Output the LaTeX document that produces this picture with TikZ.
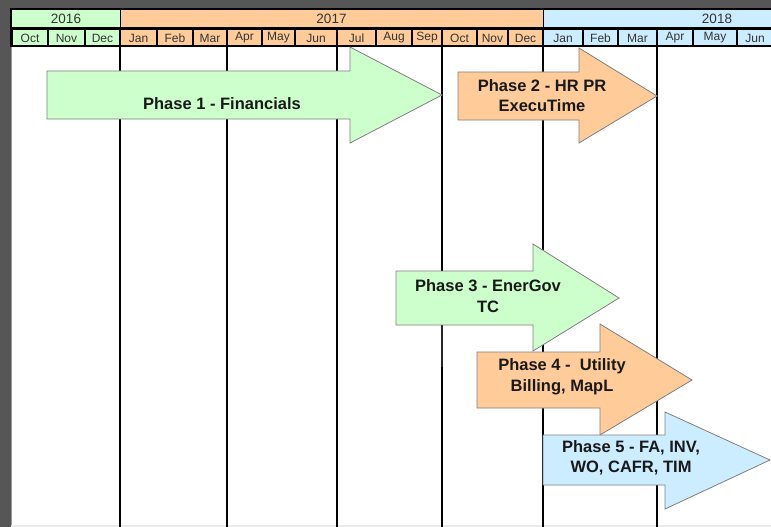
\documentclass[tikz,border=0pt]{standalone}
\usepackage{fontspec}
\setmainfont{Liberation Sans}
\definecolor{cgreen}{HTML}{CCFFCC}
\definecolor{corange}{HTML}{FFCC99}
\definecolor{cblue}{HTML}{CCECFF}
\definecolor{cbg}{HTML}{565656}
\definecolor{ctxt}{HTML}{333333}
\tikzset{
  yeartxt/.style={font=\fontsize{13.5}{14}\selectfont, text=ctxt, inner sep=0pt},
  monthtxt/.style={font=\fontsize{12}{13}\selectfont, text=ctxt, inner sep=0pt},
  gridline/.style={line width=2.8pt, black},
  phase/.style={draw=black!50, line width=0.8pt},
  phasetxt/.style={font=\bfseries\fontsize{16.5}{20.5}\selectfont, text=black!90, align=center, inner sep=0pt}
}
\begin{document}
\begin{tikzpicture}[x=1pt,y=-1pt]
\useasboundingbox (0,0) rectangle (771,527);
% background
\fill[cbg] (0,0) rectangle (771,527);
% body
\fill[white] (11,47) rectangle (771,525);
\fill[black!8] (11,525) rectangle (771,527);
\draw[black!40, line width=1pt] (11,47) -- (11,525);
% header frame
\fill[black] (10,8) rectangle (771,47.5);
% year cells
\fill[cgreen] (12,10) rectangle (119.5,27.5);
\fill[corange] (120.5,10) rectangle (542.5,27.5);
\fill[cblue] (543.5,10) rectangle (771,27.5);
\node[yeartxt] (y2016) at (66,18.5) {2016};
\node[yeartxt] (y2017) at (331.5,18.5) {2017};
\node[yeartxt] (y2018) at (717,18.5) {2018};
% month cells
\foreach \a/\b/\m/\c [count=\i] in {12/48/Oct/cgreen, 48/85/Nov/cgreen, 85/120/Dec/cgreen,
  120/157/Jan/corange, 157/193/Feb/corange, 193/227/Mar/corange, 227/262/Apr/corange,
  262/295/May/corange, 295/337/Jun/corange, 337/376/Jul/corange, 376/412/Aug/corange,
  412/442/Sep/corange, 442/477/Oct/corange, 477/508/Nov/corange, 508/543/Dec/corange,
  543/583/Jan/cblue, 583/618/Feb/cblue, 618/657/Mar/cblue, 657/693/Apr/cblue,
  693/737/May/cblue, 737/773/Jun/cblue}{
  \fill[\c] (\a+1,30) rectangle (\b-1,45.5);
  \node[monthtxt] (m\i) at ({(\a+\b)/2},38) {\m};
}
% vertical grid lines
\foreach \x in {120,227,337,543,657}{
  \draw[gridline] (\x,47) -- (\x,527);
}
\draw[gridline] (442,47) -- (442,327);
\draw[black!85, line width=1.4pt] (442,326) -- (442,368);
\draw[gridline] (442,367) -- (442,527);
% phase arrows
\filldraw[phase, fill=cgreen] (47,71) -- (350,71) -- (350,47) -- (442,95) -- (350,143) -- (350,119) -- (47,119) -- cycle;
\filldraw[phase, fill=corange] (458,72) -- (579,72) -- (579,48) -- (657,96) -- (579,143) -- (579,120) -- (458,120) -- cycle;
\filldraw[phase, fill=cgreen] (396,271) -- (533,271) -- (533,244) -- (619,298) -- (533,351) -- (533,325) -- (396,325) -- cycle;
\filldraw[phase, fill=corange] (477,352) -- (600,352) -- (600,324) -- (692,380) -- (600,435) -- (600,408) -- (477,408) -- cycle;
\filldraw[phase, fill=cblue] (543,435) -- (665,435) -- (665,412) -- (770,460) -- (665,509) -- (665,485) -- (543,485) -- cycle;
% labels
\node[phasetxt] (p1) at (222,104) {Phase 1 - Financials};
\node[phasetxt] (p2) at (542,95.5) {Phase 2 - HR PR\\ExecuTime};
\node[phasetxt] (p3) at (488,296) {Phase 3 - EnerGov\\TC};
\node[phasetxt] (p4) at (562,377) {Phase 4 -\ \ Utility\\Billing, MapL};
\node[phasetxt] (p5) at (631,458) {Phase 5 - FA, INV,\\WO, CAFR, TIM};
\end{tikzpicture}
\end{document}
